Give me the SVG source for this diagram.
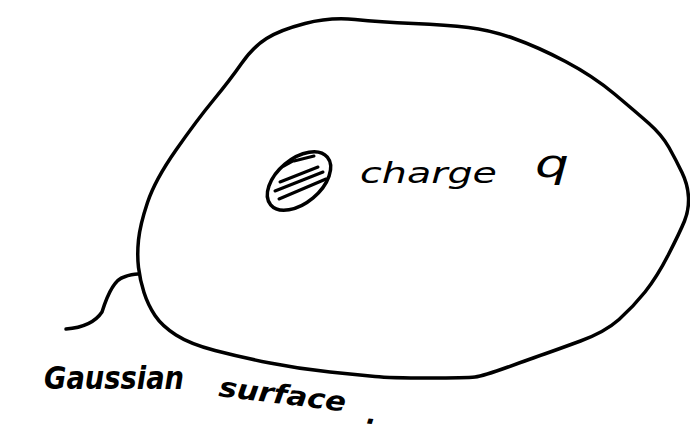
<svg xmlns="http://www.w3.org/2000/svg" width="690" height="430" viewBox="0 0 690 430">
<style>
.ink{fill:none;stroke:#000;stroke-width:3.5;stroke-linecap:round;stroke-linejoin:round}
.hatch{fill:none;stroke:#000;stroke-width:3;stroke-linecap:round}
.hand{font-family:"DejaVu Sans","Liberation Sans",sans-serif;font-style:italic;fill:#000}
</style>
<rect width="690" height="430" fill="#fff"/>
<g id="gaussian-surface">
<path class="ink" d="M305,23.5 Q330,17 355,19.5 Q380,22 413.5,23.5 Q447,25 468.5,27.5 Q490,30 514,38.5 Q538,47 565.5,61.5 Q593,76 614.5,94 Q636,112 649,123.5 Q662,135 669,147.5 Q676,160 682,172.5 Q688,185 688.5,197.5 Q689,210 684.5,221 Q680,232 668.5,254.5 Q657,277 645,292 Q633,307 619,319.5 Q605,332 580.5,341 Q556,350 544.5,354 Q533,358 508,367 Q483,376 475,377 Q467,378 428.5,378 Q390,378 375,376.5 Q360,375 330,372 Q300,369 270,363 Q240,357 215,350.5 Q190,344 176,335 Q162,326 155,315.5 Q148,305 144,292.5 Q140,280 138.5,267.5 Q137,255 138.5,240 Q140,225 147.5,202.5 Q155,180 176,150 Q197,120 213.5,100 Q230,80 241.5,63.5 Q253,47 266.5,38.5 Q280,30 305,23.5 Z"/>
</g>
<g id="charge">
<ellipse class="ink" cx="299" cy="181" rx="37" ry="22" transform="rotate(-40 299 181)"/>
<path class="hatch" d="M284,166 L293,161 M294,161 L314,156 M280,182 L318,167 M275,191 L323,172 M279,199 L326,179"/>
<text class="hand" x="360" y="183" font-size="29" textLength="137" lengthAdjust="spacingAndGlyphs">charge</text>
<text class="hand" x="535" y="177" font-size="38" textLength="34" lengthAdjust="spacingAndGlyphs">q</text>
</g>
<g id="connectors">
<path class="ink" d="M66,329 Q92,327 102,312 Q112,280 124,277 Q132,274 138,274"/>
</g>
<g id="label">
<text class="hand" x="44" y="389" font-size="32" font-weight="bold" textLength="140" lengthAdjust="spacingAndGlyphs">Gaussian</text>
<text class="hand" font-size="27" font-weight="bold" transform="rotate(7 218 395)"><tspan x="218" y="396" textLength="128" lengthAdjust="spacingAndGlyphs">surface</tspan><tspan x="368" y="405">.</tspan></text>
</g>
</svg>
